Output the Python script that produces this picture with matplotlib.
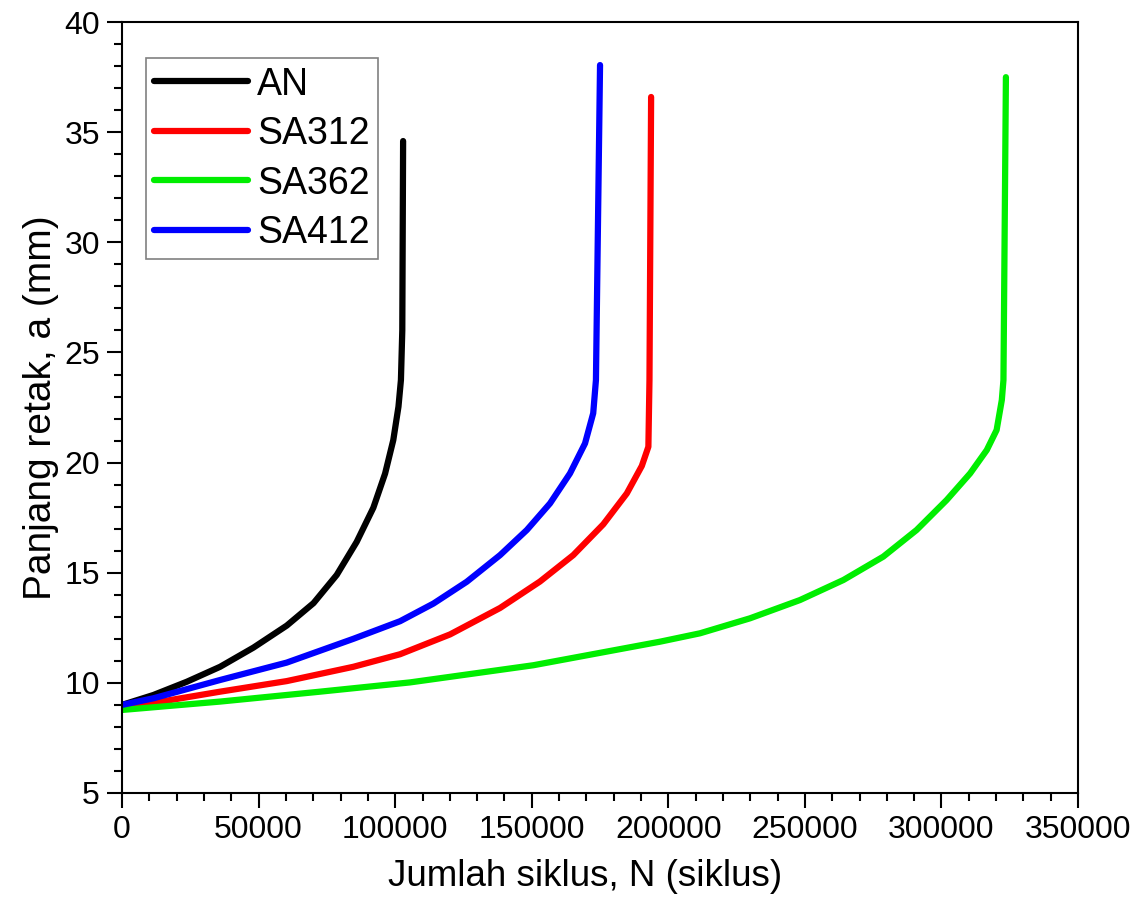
import numpy as np
from matplotlib import pyplot as plt
from matplotlib.ticker import MultipleLocator

plt.rcParams['font.family'] = ['Liberation Sans', 'DejaVu Sans']

# crack length a (mm) vs number of cycles N
labels = ['AN', 'SA312', 'SA362', 'SA412']
colors = ['black', '#ff0000', '#00ee00', '#0000ff']

N_an  = [0, 11500, 23700, 35900, 48100, 60300, 70100, 78600, 85900, 92000,
         96300, 99300, 101200, 102100, 102600, 102900]
a_an  = [9.0, 9.45, 10.05, 10.73, 11.6, 12.6, 13.62, 14.9, 16.4, 17.95,
         19.5, 21.02, 22.54, 23.75, 26.0, 34.6]

N_312 = [0, 35900, 60300, 84700, 101800, 120100, 138400, 153000, 165200,
         176200, 184800, 190300, 192700, 193100, 193700]
a_312 = [8.85, 9.6, 10.08, 10.73, 11.3, 12.2, 13.4, 14.6, 15.8,
         17.2, 18.6, 19.85, 20.72, 23.75, 36.6]

N_362 = [0, 35900, 72500, 105400, 150600, 197000, 211600, 229900,
         248200, 264100, 278700, 290900, 301900, 310500, 316600, 320200,
         322100, 322700, 323600]
a_362 = [8.77, 9.15, 9.6, 10.02, 10.8, 11.87, 12.25, 12.93,
         13.76, 14.67, 15.73, 16.94, 18.3, 19.51, 20.57, 21.48,
         22.84, 23.75, 37.5]

N_412 = [0, 11500, 35900, 60300, 84700, 101800, 114000, 126200, 138400,
         148200, 156700, 164000, 169500, 172500, 173500, 175000]
a_412 = [9.0, 9.3, 10.13, 10.92, 12.0, 12.8, 13.6, 14.59, 15.8,
         16.94, 18.15, 19.51, 20.87, 22.24, 23.75, 38.05]

series = [(N_an, a_an), (N_312, a_312), (N_362, a_362), (N_412, a_412)]

fig = plt.figure(figsize=(11.45, 9.21), dpi=100)
ax = fig.add_axes([0.1066, 0.139, 0.8349, 0.837])

for (nn, aa), lab, cc in zip(series, labels, colors):
    ax.plot(nn, aa, color=cc, lw=4.5, label=lab,
            solid_capstyle='round', solid_joinstyle='round')

ax.set_xlim(0, 350000)
ax.set_ylim(5, 40)
ax.xaxis.set_major_locator(MultipleLocator(50000))
ax.xaxis.set_minor_locator(MultipleLocator(10000))
ax.yaxis.set_major_locator(MultipleLocator(5))
ax.yaxis.set_minor_locator(MultipleLocator(1))
ax.tick_params(which='major', direction='out', length=11, width=1.5, labelsize=23, pad=5)
ax.tick_params(which='minor', direction='out', length=5.5, width=1.5)
for sp in ax.spines.values():
    sp.set_linewidth(1.5)

ax.set_xlabel('Jumlah siklus, N (siklus)', fontsize=26.5, labelpad=12)
ax.xaxis.set_label_coords(0.484, -0.085)
ax.set_ylabel('Panjang retak, a (mm)', fontsize=28, labelpad=4)

leg = ax.legend(loc='upper left', bbox_to_anchor=(0.025, 0.953), fontsize=27,
                handlelength=2.5, handletextpad=0.24, labelspacing=0.36,
                borderpad=0.22, borderaxespad=0, fancybox=False, framealpha=1)
leg.get_frame().set_edgecolor('#808080')
leg.get_frame().set_linewidth(1.2)

plt.savefig('out.png', dpi=100)
